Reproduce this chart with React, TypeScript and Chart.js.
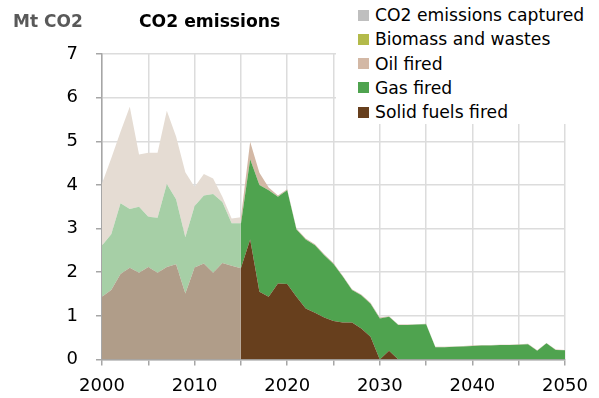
import React, { useEffect, useRef } from 'react';
import { Chart, registerables } from 'chart.js';

Chart.register(...registerables);

const histYears = [2000, 2001, 2002, 2003, 2004, 2005, 2006, 2007, 2008, 2009, 2010, 2011, 2012, 2013, 2014, 2015];
const projYears = [
  2015, 2016, 2017, 2018, 2019, 2020, 2021, 2022, 2023, 2024, 2025, 2026, 2027, 2028, 2029, 2030, 2031, 2032,
  2033, 2034, 2035, 2036, 2037, 2038, 2039, 2040, 2041, 2042, 2043, 2044, 2045, 2046, 2047, 2048, 2049, 2050,
];

const histSolid = [1.44, 1.59, 1.96, 2.1, 1.99, 2.12, 1.99, 2.12, 2.18, 1.51, 2.11, 2.2, 1.99, 2.21, 2.15, 2.09];
const histGas = [1.17, 1.28, 1.62, 1.35, 1.51, 1.15, 1.26, 1.9, 1.49, 1.29, 1.41, 1.56, 1.8, 1.4, 0.97, 1.03];
const histOil = [1.42, 1.74, 1.64, 2.34, 1.2, 1.47, 1.49, 1.68, 1.44, 1.49, 0.43, 0.49, 0.36, 0.12, 0.11, 0.14];

const projSolid = [
  2.09, 2.75, 1.55, 1.44, 1.74, 1.73, 1.44, 1.17, 1.07, 0.96, 0.88, 0.85, 0.85, 0.71, 0.52, 0, 0.2, 0,
  0, 0, 0, 0, 0, 0, 0, 0, 0, 0, 0, 0, 0, 0, 0, 0, 0, 0,
];
const projGas = [
  1.01, 1.84, 2.45, 2.44, 1.99, 2.15, 1.54, 1.58, 1.55, 1.43, 1.31, 1.05, 0.74, 0.76, 0.76, 0.94, 0.78, 0.79,
  0.79, 0.8, 0.81, 0.28, 0.28, 0.29, 0.3, 0.31, 0.32, 0.32, 0.33, 0.33, 0.34, 0.35, 0.2, 0.37, 0.22, 0.21,
];
const projOil = [
  0.15, 0.4, 0.28, 0.06, 0.03, 0.02, 0.02, 0.02, 0.02, 0.02, 0.02, 0.02, 0.02, 0.02, 0.02, 0.02, 0.01, 0.01,
  0.01, 0.01, 0.01, 0.01, 0.01, 0.01, 0.01, 0.01, 0.01, 0.01, 0.01, 0.01, 0.01, 0.01, 0.01, 0.01, 0.01, 0.01,
];
const projBiomass = projYears.map(() => 0);
const projCaptured = projYears.map(() => 0);

const legendLabels = ['CO2 emissions captured', 'Biomass and wastes', 'Oil fired', 'Gas fired', 'Solid fuels fired'];
const legendColors = ['#bfbfbf', '#b3ba4a', '#d3b8a5', '#4fa34f', '#673f1d'];

const histColors = { solid: '#b09d89', gas: '#a6cfa6', oil: '#e5dcd3' };
const projColors = { solid: '#673f1d', gas: '#4fa34f', oil: '#d3b8a5', biomass: '#b3ba4a', captured: '#bfbfbf' };

const titleText = 'CO2 emissions';
const unitText = 'Mt CO2';

const FONT = '"DejaVu Sans", sans-serif';

function pts(xs: number[], ys: number[]) {
  return xs.map((x, i) => ({ x, y: ys[i] }));
}

export default function App() {
  const ref = useRef<HTMLCanvasElement | null>(null);

  useEffect(() => {
    document.body.style.margin = '0';
    const ctx = ref.current!.getContext('2d')!;
    const base = { borderWidth: 0, pointRadius: 0, tension: 0 };
    const chart = new Chart(ctx, {
      type: 'line',
      data: {
        datasets: [
          { ...base, label: 'hSolid', stack: 'h', data: pts(histYears, histSolid), backgroundColor: histColors.solid, fill: 'origin' },
          { ...base, label: 'hGas', stack: 'h', data: pts(histYears, histGas), backgroundColor: histColors.gas, fill: '-1' },
          { ...base, label: 'hOil', stack: 'h', data: pts(histYears, histOil), backgroundColor: histColors.oil, fill: '-1' },
          { ...base, label: 'Solid fuels fired', stack: 'p', data: pts(projYears, projSolid), backgroundColor: projColors.solid, fill: 'origin' },
          { ...base, label: 'Gas fired', stack: 'p', data: pts(projYears, projGas), backgroundColor: projColors.gas, fill: '-1' },
          { ...base, label: 'Oil fired', stack: 'p', data: pts(projYears, projOil), backgroundColor: projColors.oil, fill: '-1' },
          { ...base, label: 'Biomass and wastes', stack: 'p', data: pts(projYears, projBiomass), backgroundColor: projColors.biomass, fill: '-1' },
          { ...base, label: 'CO2 emissions captured', stack: 'p', data: pts(projYears, projCaptured), backgroundColor: projColors.captured, fill: '-1' },
        ],
      },
      options: {
        responsive: false,
        animation: false,
        layout: { padding: { top: 54, right: 34, left: 0, bottom: 0 } },
        plugins: { legend: { display: false }, tooltip: { enabled: false }, title: { display: false } },
        scales: {
          x: {
            type: 'linear',
            min: 2000,
            max: 2050,
            grid: { color: '#dcdcdc', lineWidth: 1.5, tickColor: '#a6a6a6', tickLength: 6 },
            border: { color: '#a6a6a6', width: 1.5 },
            ticks: {
              stepSize: 5,
              padding: 10,
              color: '#000',
              font: { family: FONT, size: 18 },
              maxRotation: 0,
              autoSkip: false,
              callback: (v: any) => (Number(v) % 10 === 0 ? String(v) : ''),
            },
            afterFit: (axis: any) => {
              axis.height = 38.5;
            },
          },
          y: {
            stacked: true,
            min: 0,
            max: 7,
            grid: { color: '#dcdcdc', lineWidth: 1.5, tickColor: '#a6a6a6', tickLength: 6 },
            border: { color: '#a6a6a6', width: 1.5 },
            ticks: { stepSize: 1, padding: 18, color: '#000', font: { family: FONT, size: 18 } },
            afterFit: (axis: any) => {
              axis.width = 102;
            },
          },
        },
      },
    });
    return () => chart.destroy();
  }, []);

  return (
    <div style={{ position: 'relative', width: 599, height: 398, fontFamily: FONT }}>
      <canvas ref={ref} width={599} height={398} style={{ display: 'block' }} />
      <div style={{ position: 'absolute', left: 13, top: 11, lineHeight: '20px', fontSize: 17, fontWeight: 'bold', color: '#595959' }}>
        {unitText}
      </div>
      <div style={{ position: 'absolute', left: 139, top: 11, lineHeight: '20px', fontSize: 17.2, fontWeight: 'bold', color: '#000' }}>
        {titleText}
      </div>
      <div style={{ position: 'absolute', left: 336, top: 0, width: 263, height: 124, background: '#fff' }}>
        {legendLabels.map((lab, i) => (
          <div
            key={lab}
            style={{ position: 'absolute', left: 22, top: 5 + i * 24.3, height: 20, display: 'flex', alignItems: 'center', whiteSpace: 'nowrap' }}
          >
            <span style={{ display: 'inline-block', width: 11, height: 11, background: legendColors[i], marginRight: 6 }} />
            <span style={{ fontSize: 17.2, lineHeight: '20px', color: '#000' }}>{lab}</span>
          </div>
        ))}
      </div>
    </div>
  );
}
